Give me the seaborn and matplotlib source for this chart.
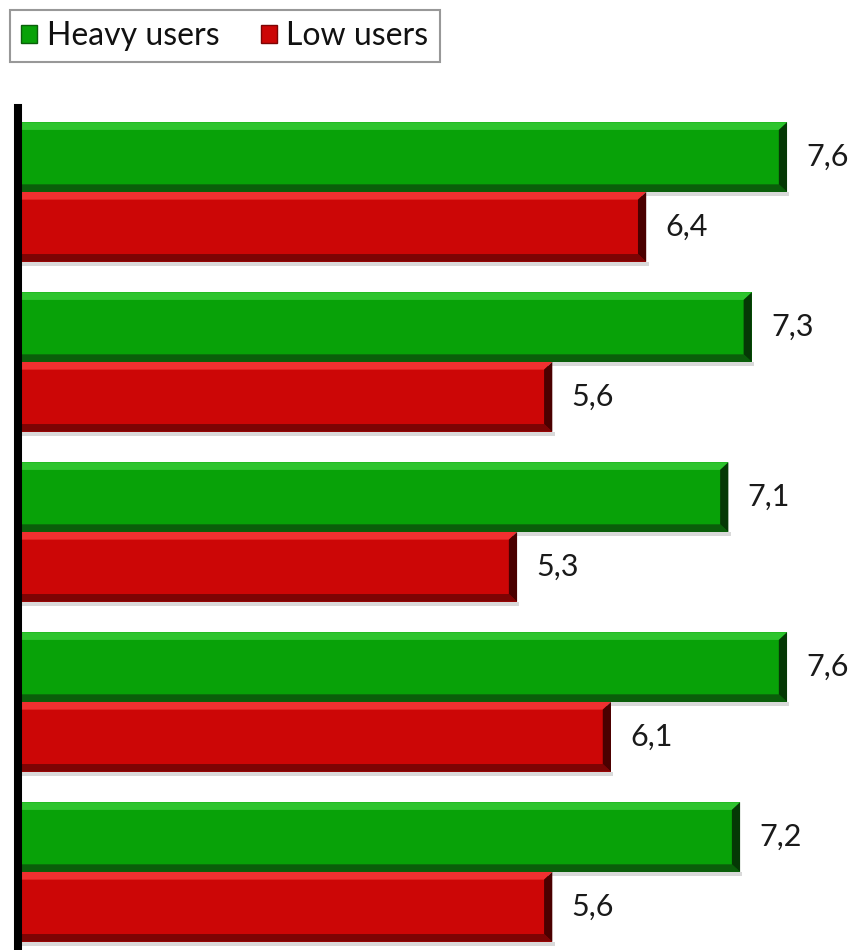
import matplotlib
matplotlib.use("Agg")
import matplotlib.pyplot as plt
import matplotlib.patches as mpatches
import pandas as pd
import seaborn as sns

# data
groups = ["G1", "G2", "G3", "G4", "G5"]
heavy = [7.6, 7.3, 7.1, 7.6, 7.2]
low = [6.4, 5.6, 5.3, 6.1, 5.6]
series = ["Heavy users", "Low users"]
colors = {"Heavy users": "#08a208", "Low users": "#cc0606"}
light = {"Heavy users": "#2ec42e", "Low users": "#f03030"}
dark = {"Heavy users": "#0a5e0a", "Low users": "#7c0404"}
darkest = {"Heavy users": "#053805", "Low users": "#4a0000"}

df = pd.DataFrame({
    "group": groups * 2,
    "value": heavy + low,
    "series": [series[0]] * len(groups) + [series[1]] * len(groups),
})

sns.set_style("white")
plt.rcParams["font.family"] = ["Lato", "DejaVu Sans"]

fig = plt.figure(figsize=(8.48, 9.5), dpi=100)
ax = fig.add_axes([18 / 848, 0, (834 - 18) / 848, 1 - 108 / 950])

sns.barplot(data=df, y="group", x="value", hue="series", orient="h",
            palette=colors, width=0.82, ax=ax, legend=False, saturation=1)

ax.set_xlim(1.048, 8.0)
ax.set_ylim(4.459, -0.494)

# bevel look: light top edge, dark bottom and right edges
bx = 0.07   # bevel depth along x (data units)
by = 0.045  # bevel depth along y (data units)
for cont, s in zip(ax.containers, series):
    for bar in cont:
        x0, y0 = bar.get_x(), bar.get_y()
        x1, y1 = x0 + bar.get_width(), y0 + bar.get_height()
        bar.set_edgecolor("none")
        # shadow below
        ax.add_patch(mpatches.Rectangle((x0, y1), bar.get_width() + 0.02, 0.025,
                                        facecolor="#d9d9d9", edgecolor="none", zorder=1.5))
        # top (y0 is top since y axis inverted)
        ax.add_patch(mpatches.Polygon([(x0, y0), (x1, y0), (x1 - bx, y0 + by), (x0, y0 + by)],
                                      facecolor=light[s], edgecolor="none", zorder=3))
        # bottom
        ax.add_patch(mpatches.Polygon([(x0, y1), (x1, y1), (x1 - bx, y1 - by), (x0, y1 - by)],
                                      facecolor=dark[s], edgecolor="none", zorder=3))
        # right end
        ax.add_patch(mpatches.Polygon([(x1, y0), (x1, y1), (x1 - bx, y1 - by), (x1 - bx, y0 + by)],
                                      facecolor=darkest[s], edgecolor="none", zorder=3))
    labels = [f"{v:.1f}".replace(".", ",") for v in cont.datavalues]
    ax.bar_label(cont, labels=labels, padding=14, fontsize=22, color="#1a1a1a")

ax.set_xticks([])
ax.set_yticks([])
ax.set_xlabel("")
ax.set_ylabel("")
for side in ["top", "right", "bottom"]:
    ax.spines[side].set_visible(False)
ax.spines["left"].set_color("black")
ax.spines["left"].set_linewidth(5.8)
ax.spines["left"].set_zorder(5)

handles = [mpatches.Patch(facecolor=colors[s], edgecolor=dark[s], label=s) for s in series]
leg = fig.legend(handles=handles, loc="upper left", bbox_to_anchor=(10 / 848, 1 - 10 / 950),
                 ncol=2, frameon=True, fancybox=False, fontsize=23,
                 handlelength=0.5, handleheight=0.5, handletextpad=0.3,
                 columnspacing=1.3, borderpad=0.35, borderaxespad=0)
leg.get_frame().set_edgecolor("#7f7f7f")
leg.get_frame().set_linewidth(1.5)
for t in leg.get_texts():
    t.set_color("#111111")

fig.savefig("out.png", dpi=100)
